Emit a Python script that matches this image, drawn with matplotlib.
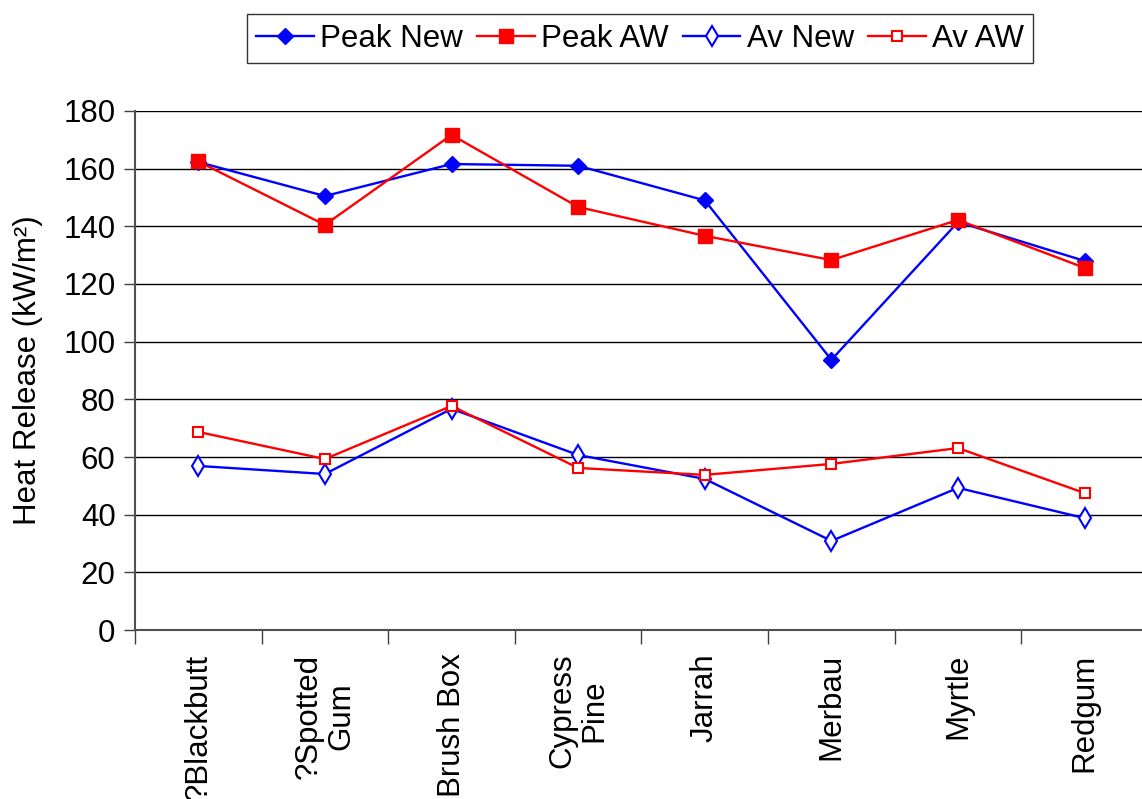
import numpy as np
import matplotlib
matplotlib.use('Agg')
from matplotlib import pyplot as plt

rc_fonts = {
    'font.family': ['Liberation Sans', 'DejaVu Sans'],
    'font.size': 22.5,
    'xtick.labelsize': 22.5,
    'ytick.labelsize': 22.5,
    'legend.fontsize': 22.5,
    'lines.linewidth': 1.7,
}
matplotlib.rcParams.update(rc_fonts)

species = ['?Blackbutt', '?Spotted\nGum', 'Brush Box', 'Cypress\nPine',
           'Jarrah', 'Merbau', 'Myrtle', 'Redgum']
peak_new = [162.3, 150.5, 161.6, 161.0, 149.0, 93.7, 141.5, 128.0]
peak_aw = [162.5, 140.5, 171.7, 146.7, 136.7, 128.3, 142.2, 125.6]
av_new = [56.9, 54.1, 76.7, 60.7, 52.4, 30.9, 49.3, 38.8]
av_aw = [68.7, 59.3, 77.7, 56.2, 53.8, 57.6, 63.1, 47.5]
y_ticks = [0, 20, 40, 60, 80, 100, 120, 140, 160, 180]

fig = plt.figure(figsize=(11.42, 7.99), dpi=100)
ax = fig.add_axes([0.1182, 0.2115, 0.887, 0.6496])

x = np.arange(len(species))
ax.plot(x, peak_new, '-', c='#0000ff', marker='D', ms=8.5, mfc='#0000ff', mec='#0000ff', label='Peak New', zorder=3)
ax.plot(x, peak_aw, '-', c='#ff0000', marker='s', ms=9.5, mfc='#ff0000', mec='#ff0000', label='Peak AW', zorder=3)
ax.plot(x, av_new, '-', c='#0000ff', marker='d', ms=10.5, mfc='white', mec='#0000ff', mew=1.5, label='Av New', zorder=3)
ax.plot(x, av_aw, '-', c='#ff0000', marker='s', ms=7.5, mfc='white', mec='#ff0000', mew=1.5, label='Av AW', zorder=3)

ax.set_xlim(-0.5, len(species) - 0.5)
ax.set_ylim(0, 180)
ax.set_yticks(y_ticks)
for v in y_ticks[1:]:
    ax.axhline(v, c='black', lw=1.0, zorder=1)

# boundary ticks between categories, names sit under each point
ax.set_xticks(np.arange(-0.5, len(species), 1.0))
ax.set_xticklabels([])
ax.set_xticks(x, minor=True)
ax.set_xticklabels(species, minor=True, rotation=90, ha='center', va='top',
                   multialignment='center', linespacing=1.1)
ax.tick_params(axis='x', which='major', direction='out', length=10, width=1, color='#404040')
ax.tick_params(axis='x', which='minor', length=0, pad=17)
ax.tick_params(axis='y', direction='out', length=8, width=1, color='#404040', pad=6)

ax.spines['top'].set_visible(False)
ax.spines['right'].set_visible(False)
ax.spines['left'].set_color('#505050')
ax.spines['bottom'].set_color('#505050')
ax.spines['left'].set_linewidth(1.5)
ax.spines['bottom'].set_linewidth(1.5)

ax.set_ylabel('Heat Release (kW/m²)')
ax.yaxis.set_label_coords(-0.091, 0.5)

leg = fig.legend(loc='upper center', bbox_to_anchor=(0.5604, 0.99), ncol=4,
                 frameon=True, fancybox=False, edgecolor='black',
                 handlelength=1.85, handletextpad=0.2, columnspacing=0.45,
                 borderpad=0.3, borderaxespad=0.2)
leg.get_frame().set_linewidth(1.0)

fig.savefig('out.png', dpi=100)
